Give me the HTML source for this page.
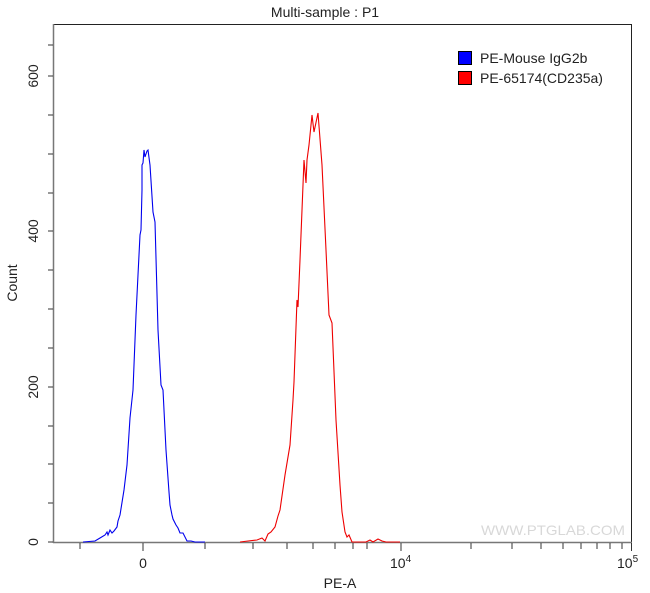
<!DOCTYPE html>
<html><head><meta charset="utf-8"><style>
html,body{margin:0;padding:0;background:#fff;}
svg{display:block;font-family:"Liberation Sans",sans-serif;}
</style></head><body>
<svg width="650" height="593" viewBox="0 0 650 593" xmlns="http://www.w3.org/2000/svg">
<rect width="650" height="593" fill="#fff"/>
<text x="325" y="17" font-size="14" text-anchor="middle" fill="#222">Multi-sample : P1</text>
<rect x="53.5" y="24.5" width="578" height="518" fill="none" stroke="#222" stroke-width="1"/>
<line x1="53" y1="542.5" x2="632" y2="542.5" stroke="#777" stroke-width="1.5"/>
<line x1="53.5" y1="24" x2="53.5" y2="543" stroke="#777" stroke-width="1.5"/>
<g stroke="#333" stroke-width="1">
<line x1="48" y1="542" x2="53" y2="542"/><line x1="48" y1="503" x2="53" y2="503"/>
<line x1="48" y1="464" x2="53" y2="464"/><line x1="48" y1="426" x2="53" y2="426"/>
<line x1="48" y1="387" x2="53" y2="387"/><line x1="48" y1="348" x2="53" y2="348"/>
<line x1="48" y1="309" x2="53" y2="309"/><line x1="48" y1="270" x2="53" y2="270"/>
<line x1="48" y1="231" x2="53" y2="231"/><line x1="48" y1="193" x2="53" y2="193"/>
<line x1="48" y1="154" x2="53" y2="154"/><line x1="48" y1="115" x2="53" y2="115"/>
<line x1="48" y1="76" x2="53" y2="76"/><line x1="48" y1="45" x2="53" y2="45"/>
</g>
<g font-size="14" fill="#222" text-anchor="middle">
<text transform="translate(38,542) rotate(-90)">0</text>
<text transform="translate(38,387) rotate(-90)">200</text>
<text transform="translate(38,231) rotate(-90)">400</text>
<text transform="translate(38,76) rotate(-90)">600</text>
<text transform="translate(17,283) rotate(-90)">Count</text>
</g>
<g stroke="#333" stroke-width="1">
<line x1="80" y1="543" x2="80" y2="549"/><line x1="143" y1="543" x2="143" y2="551"/>
<line x1="205" y1="543" x2="205" y2="549"/><line x1="253" y1="543" x2="253" y2="549"/>
<line x1="287" y1="543" x2="287" y2="549"/><line x1="313" y1="543" x2="313" y2="549"/>
<line x1="335" y1="543" x2="335" y2="549"/><line x1="353" y1="543" x2="353" y2="549"/>
<line x1="367" y1="543" x2="367" y2="549"/><line x1="401" y1="543" x2="401" y2="551"/>
<line x1="471" y1="543" x2="471" y2="549"/><line x1="512" y1="543" x2="512" y2="549"/>
<line x1="541" y1="543" x2="541" y2="549"/><line x1="563" y1="543" x2="563" y2="549"/>
<line x1="581" y1="543" x2="581" y2="549"/><line x1="597" y1="543" x2="597" y2="549"/>
<line x1="610" y1="543" x2="610" y2="549"/><line x1="622" y1="543" x2="622" y2="549"/>
<line x1="631.5" y1="543" x2="631.5" y2="551"/>
</g>
<g font-size="14" fill="#222">
<text x="143" y="568" text-anchor="middle">0</text>
<text x="390" y="568">10<tspan font-size="10" dy="-6">4</tspan></text>
<text x="617" y="568">10<tspan font-size="10" dy="-6">5</tspan></text>
<text x="340" y="588" text-anchor="middle">PE-A</text>
</g>
<text x="481" y="535" font-size="14" fill="#d8d8d8" textLength="144" lengthAdjust="spacingAndGlyphs">WWW.PTGLAB.COM</text>
<rect x="458.5" y="51.5" width="13" height="13" fill="#0000ff" stroke="#000"/>
<rect x="458.5" y="71.5" width="13" height="13" fill="#ff0000" stroke="#000"/>
<text x="480" y="63" font-size="14" fill="#222">PE-Mouse IgG2b</text>
<text x="480" y="83" font-size="14" fill="#222">PE-65174(CD235a)</text>
<polyline fill="none" stroke="#0000ee" stroke-width="1.1" points="83,542 95,541 100,538 105,535 107,532 108,535 110,530 112,533 114,531 117,527 118,521 120,515 124,490 127,465 130,418 133,390 136,315 138,275 140,235 141,230 142,190 142,165 143,163 144,150 145,157 147,151 148,150 150,165 153,212 155,222 158,330 161,385 163,390 166,450 169,492 170,505 172,515 173,519 176,525 178,528 180,533 183,533 187,541 191,541 195,542 205,542"/>
<polyline fill="none" stroke="#ee0000" stroke-width="1.1" points="240,542 248,541 257,540 262,538 265,541 268,534 271,532 275,527 278,516 280,510 285,475 290,445 293,400 294,382 297,300 298,307 300,260 302,210 304,160 306,183 307,160 309,145 312,115 314,132 318,113 322,165 326,250 329,315 332,323 336,420 340,485 342,512 345,532 347,537 349,535 352,542 366,542 370,540 373,542 378,539 382,541 386,542 400,542"/>
</svg>
</body></html>
